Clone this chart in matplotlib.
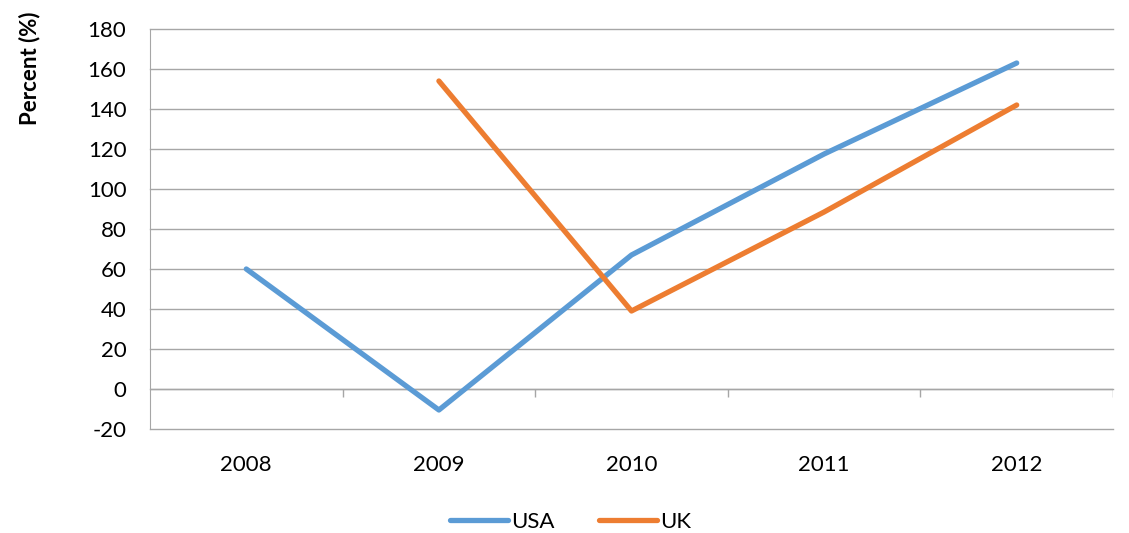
import numpy as np
import matplotlib.pyplot as plt

plt.rcParams['font.family'] = ['Lato', 'DejaVu Sans']
plt.rcParams['axes.unicode_minus'] = False

years = ['2008', '2009', '2010', '2011', '2012']
usa = [60, -10.5, 67, 117.5, 163]
uk = [np.nan, 154, 39, 88.5, 142]

x = np.arange(1, len(years) + 1)
grid_col = '#A6A6A6'

fig = plt.figure(figsize=(11.29, 5.33), dpi=100)
ax = fig.add_axes([150 / 1129, 1 - 429 / 533, 963 / 1129, 400 / 533])

ax.plot(x, usa, color='#5B9BD5', lw=3.8, solid_capstyle='round',
        solid_joinstyle='round', label='USA', zorder=3)
ax.plot(x, uk, color='#ED7D31', lw=3.8, solid_capstyle='round',
        solid_joinstyle='round', label='UK', zorder=3)

ax.set_xlim(0.5, 5.5)
ax.set_ylim(-20, 180)
ax.set_yticks(np.arange(-20, 181, 20))
ax.set_xticks(x)
ax.set_xticklabels(years)
ax.yaxis.grid(True, color=grid_col, lw=1.0, clip_on=False)
ax.set_axisbelow(True)

# category axis crosses at zero, tick marks between categories
ax.axhline(0, color=grid_col, lw=1.0, zorder=1)
ax.vlines(np.arange(1.5, 6, 1), -4, 0, color=grid_col, lw=1.0, zorder=1)

for s in ['top', 'right', 'bottom']:
    ax.spines[s].set_visible(False)
ax.spines['left'].set_color(grid_col)
ax.tick_params(axis='both', length=0, labelsize=16, colors='black')
ax.tick_params(axis='y', pad=17)
ax.tick_params(axis='x', pad=19)

# axis title sits near the top, as in the original
fig.text(30 / 1129, 1 - 68 / 533, 'Percent (%)', rotation=90, fontsize=16,
         fontweight='bold', ha='center', va='center')

leg = ax.legend(loc='center', bbox_to_anchor=(0.437, -0.2325), ncol=2,
                frameon=False, fontsize=16, handlelength=2.6,
                handletextpad=0.15, columnspacing=2.0)

fig.savefig('out.png', dpi=100)
